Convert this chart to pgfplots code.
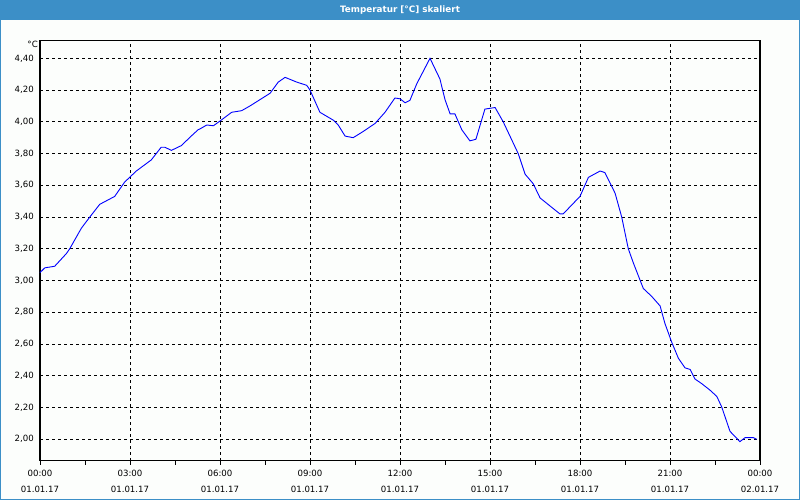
\documentclass[border=0pt]{standalone}
\usepackage{fontspec}
\setmainfont{DejaVu Sans}
\usepackage{pgfplots}
\pgfplotsset{compat=1.18}
\definecolor{titleblue}{RGB}{60,143,199}
\definecolor{bgc}{RGB}{252,254,252}
\begin{document}
\begin{tikzpicture}[x=1pt,y=1pt]
\fill[bgc] (0,0) rectangle (800,500);
\fill[titleblue] (0,479.5) rectangle (800,500);
\draw[titleblue,line width=1pt] (0.5,0.5) rectangle (799.5,499.5);
\node[text=white,font=\fontsize{8.8}{10}\selectfont\bfseries] at (400,490) {Temperatur [°C] skaliert};
\begin{axis}[
  at={(40pt,39.3pt)}, anchor=south west,
  scale only axis, width=720pt, height=420pt,
  xmin=0, xmax=24, ymin=1.865, ymax=4.511,
  axis line style={black,line width=1.2pt},
  xtick={0,3,6,9,12,15,18,21,24},
  minor xtick={1.5,4.5,7.5,10.5,13.5,16.5,19.5,22.5},
  xticklabels={00:00\\01.01.17,03:00\\01.01.17,06:00\\01.01.17,09:00\\01.01.17,12:00\\01.01.17,15:00\\01.01.17,18:00\\01.01.17,21:00\\01.01.17,00:00\\02.01.17},
  xticklabel style={align=center,font=\fontsize{8.6}{16}\selectfont,yshift=-2pt},
  ytick={2,2.2,2.4,2.6,2.8,3,3.2,3.4,3.6,3.8,4,4.2,4.4},
  yticklabel style={font=\fontsize{8.6}{10}\selectfont,inner sep=1pt,xshift=-1pt},
  /pgf/number format/assume math mode=true,
  /pgf/number format/.cd, use comma, fixed, fixed zerofill, precision=2, /pgfplots/.cd,
  xtick pos=bottom, ytick pos=left,
  tick align=outside,
  xtick style={black,line width=0.8pt},
  ytick style={draw=none},
  major tick length=4pt, minor tick length=4pt,
  grid=major,
  major grid style={black,line width=0.8pt,dash pattern=on 3pt off 3pt},
  clip=false,
]
\addplot[blue,line width=0.9pt] coordinates {
(0.0,3.05) (0.16,3.08) (0.49,3.09) (0.88,3.17) (0.99,3.20) (1.38,3.33) (1.66,3.40)
(1.99,3.48) (2.49,3.53) (2.82,3.62) (3.21,3.69) (3.71,3.76) (4.04,3.84) (4.16,3.84)
(4.38,3.82) (4.71,3.85) (5.04,3.91) (5.27,3.95) (5.33,3.955) (5.56,3.98) (5.78,3.975)
(6.00,4.005) (6.39,4.06) (6.72,4.07) (7.00,4.10) (7.67,4.18) (7.94,4.25) (8.17,4.28)
(8.56,4.25) (8.89,4.23) (9.00,4.20) (9.33,4.06) (9.78,4.01) (9.94,3.98) (10.17,3.91)
(10.44,3.90) (10.78,3.94) (11.17,3.99) (11.50,4.06) (11.83,4.15) (12.00,4.145) (12.17,4.12)
(12.33,4.135) (12.56,4.24) (13.00,4.40) (13.33,4.27) (13.50,4.14) (13.67,4.05) (13.83,4.05)
(14.06,3.95) (14.33,3.88) (14.53,3.89) (14.83,4.08) (15.17,4.09) (15.44,4.00) (15.94,3.80)
(16.17,3.67) (16.44,3.61) (16.67,3.52) (17.33,3.42) (17.44,3.42) (18.00,3.53) (18.28,3.65)
(18.67,3.69) (18.83,3.68) (19.17,3.55) (19.39,3.40) (19.61,3.20) (19.78,3.11) (20.11,2.95)
(20.39,2.90) (20.67,2.84) (20.83,2.73) (21.06,2.61) (21.28,2.51) (21.50,2.45) (21.67,2.44)
(21.83,2.38) (22.06,2.35) (22.33,2.31) (22.56,2.27) (22.72,2.205) (23.00,2.05) (23.33,1.985)
(23.50,2.01) (23.78,2.01) (23.89,2.00)
};
\node[anchor=east,font=\fontsize{8.6}{10}\selectfont,inner sep=1pt] at ([xshift=-1pt,yshift=-4pt]rel axis cs:0,1) {°C};
\end{axis}
\pgfresetboundingbox
\useasboundingbox (0,0) rectangle (800,500);
\end{tikzpicture}
\end{document}
